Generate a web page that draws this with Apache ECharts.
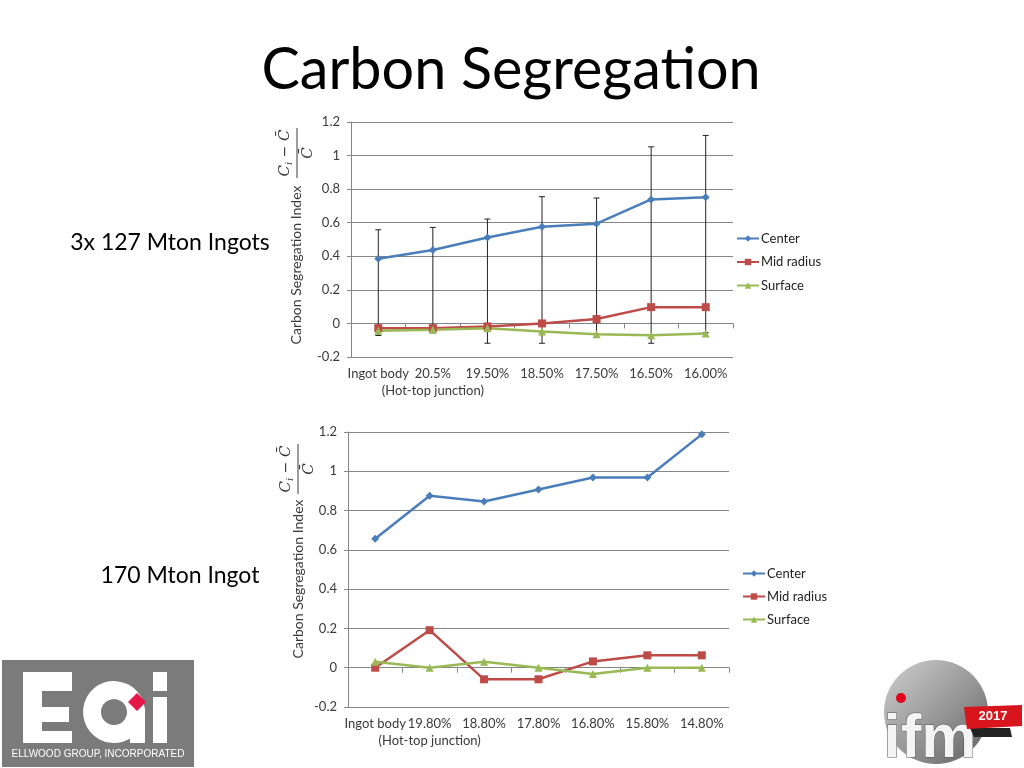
<!DOCTYPE html>
<html>
<head>
<meta charset="utf-8">
<script src="https://cdn.jsdelivr.net/npm/echarts@6/dist/echarts.min.js"></script>
<style>
html,body{margin:0;padding:0;background:#fff;}
#c{width:1024px;height:768px;}
</style>
</head>
<body>
<div id="c"></div>
<script>
// ---- data ----
var topCategories = ['Ingot body', '20.5%\n(Hot-top junction)', '19.50%', '18.50%', '17.50%', '16.50%', '16.00%'];
var topCenter  = [0.385, 0.437, 0.512, 0.576, 0.594, 0.739, 0.751];
var topMid     = [-0.028, -0.028, -0.018, 0.0, 0.026, 0.097, 0.097];
var topSurface = [-0.044, -0.038, -0.028, -0.048, -0.064, -0.071, -0.060];
var topErrHigh = [0.558, 0.572, 0.622, 0.755, 0.747, 1.052, 1.120];
var topErrLow  = [-0.072, -0.056, -0.118, -0.118, -0.065, -0.118, -0.055];

var botCategories = ['Ingot body', '19.80%\n(Hot-top junction)', '18.80%', '17.80%', '16.80%', '15.80%', '14.80%'];
var botCenter  = [0.657, 0.875, 0.846, 0.907, 0.968, 0.968, 1.188];
var botMid     = [0.0, 0.191, -0.059, -0.059, 0.032, 0.063, 0.063];
var botSurface = [0.030, 0.0, 0.030, 0.0, -0.032, 0.0, 0.0];

var seriesNames = ['Center', 'Mid radius', 'Surface'];
var yTicks = { min: -0.2, max: 1.2, interval: 0.2 };

var FONT = 'Lato';
var C_BLUE = '#4A7EBB', C_RED = '#BE4B48', C_GREEN = '#98B954';
var AX = '#868686', LBL = '#3a3a3a';

function xAxisCfg(gi, cats) {
  return {
    type: 'category', gridIndex: gi, data: cats, boundaryGap: true,
    axisLine: { lineStyle: { color: AX, width: 1 } },
    axisTick: { show: true, alignWithLabel: false, length: 5, lineStyle: { color: AX } },
    axisLabel: { interval: 0, color: LBL, fontFamily: FONT, fontSize: 13, margin: 8, lineHeight: 17 },
    splitLine: { show: false }
  };
}
function yAxisCfg(gi) {
  return {
    type: 'value', gridIndex: gi, min: yTicks.min, max: yTicks.max, interval: yTicks.interval,
    axisLine: { show: true, lineStyle: { color: AX, width: 1 } },
    axisTick: { show: true, length: 4, lineStyle: { color: AX } },
    axisLabel: { color: LBL, fontFamily: FONT, fontSize: 13, margin: 11,
      formatter: function (v) { return String(+v.toFixed(1)); } },
    splitLine: { show: true, lineStyle: { color: AX, width: 1 } }
  };
}
function lineSeries(name, gi, data, color, symbol, size) {
  return {
    name: name, type: 'line', xAxisIndex: gi, yAxisIndex: gi, data: data,
    symbol: symbol, symbolSize: size, showSymbol: true,
    lineStyle: { color: color, width: 2.5 },
    itemStyle: { color: color },
    z: 3, animation: false
  };
}
function errRender(params, api) {
  var x = api.value(0);
  var lo = api.coord([x, api.value(1)]);
  var hi = api.coord([x, api.value(2)]);
  var w = 3, st = { stroke: '#222', lineWidth: 1 };
  return { type: 'group', children: [
    { type: 'line', shape: { x1: lo[0], y1: lo[1], x2: hi[0], y2: hi[1] }, style: st },
    { type: 'line', shape: { x1: hi[0] - w, y1: hi[1], x2: hi[0] + w, y2: hi[1] }, style: st },
    { type: 'line', shape: { x1: lo[0] - w, y1: lo[1], x2: lo[0] + w, y2: lo[1] }, style: st }
  ]};
}

function yTitle(cx, cy, fx, fy) {
  return [
    { type: 'text', x: cx, y: cy, rotation: Math.PI / 2,
      style: { text: 'Carbon Segregation Index', font: '14px ' + FONT, fill: LBL, align: 'center', verticalAlign: 'middle' } },
    { type: 'group', x: fx, y: fy, rotation: Math.PI / 2, children: [
      { type: 'text', x: 0, y: -12,
        style: { text: '{c|C}{s|i}{m| − }{c|C̄}', align: 'center', verticalAlign: 'middle', fill: LBL,
          rich: { c: { fontFamily: 'DejaVu Serif', fontStyle: 'italic', fontSize: 15, fill: LBL },
                  s: { fontFamily: 'DejaVu Serif', fontStyle: 'italic', fontSize: 10, fill: LBL, verticalAlign: 'bottom', padding: [8, 0, 0, 0] },
                  m: { fontFamily: 'DejaVu Sans', fontSize: 14, fill: LBL } } } },
      { type: 'line', shape: { x1: -25, y1: 0, x2: 25, y2: 0 }, style: { stroke: LBL, lineWidth: 1 } },
      { type: 'text', x: 0, y: 11,
        style: { text: 'C̄', font: 'italic 15px "DejaVu Serif"', fill: LBL, align: 'center', verticalAlign: 'middle' } }
    ]}
  ];
}

var graphics = [
  { type: 'text', x: 511, y: 70, style: { text: 'Carbon Segregation', font: '57.5px ' + FONT, fill: '#000', align: 'center', verticalAlign: 'middle' } },
  { type: 'text', x: 170, y: 243, style: { text: '3x 127 Mton Ingots', font: '23px ' + FONT, fill: '#000', align: 'center', verticalAlign: 'middle' } },
  { type: 'text', x: 180, y: 576, style: { text: '170 Mton Ingot', font: '23px ' + FONT, fill: '#000', align: 'center', verticalAlign: 'middle' } },
  // EGI logo
  { type: 'group', children: [
    { type: 'rect', shape: { x: 2, y: 660, width: 192, height: 107 }, style: { fill: '#7b7b7b' } },
    { type: 'rect', shape: { x: 23, y: 672, width: 49, height: 19 }, style: { fill: '#fff' } },
    { type: 'rect', shape: { x: 23, y: 672, width: 19, height: 71 }, style: { fill: '#fff' } },
    { type: 'rect', shape: { x: 23, y: 707, width: 46, height: 15 }, style: { fill: '#fff' } },
    { type: 'rect', shape: { x: 23, y: 731, width: 49, height: 12 }, style: { fill: '#fff' } },
    { type: 'sector', shape: { cx: 114, cy: 712, r0: 13, r: 31, startAngle: -Math.PI * 0.22, endAngle: Math.PI * 1.95 }, style: { fill: '#fff' } },
    { type: 'rect', shape: { x: 130, y: 708, width: 15, height: 35 }, style: { fill: '#fff' } },
    { type: 'polygon', shape: { points: [[137, 693], [146, 702], [137, 711], [128, 702]] }, style: { fill: '#e8174a' } },
    { type: 'rect', shape: { x: 153, y: 672, width: 14, height: 19 }, style: { fill: '#fff' } },
    { type: 'rect', shape: { x: 153, y: 697, width: 14, height: 46 }, style: { fill: '#fff' } },
    { type: 'text', x: 98, y: 754, style: { text: 'ELLWOOD GROUP, INCORPORATED', font: '10px "Liberation Sans"', fill: '#fff', align: 'center', verticalAlign: 'middle' } }
  ]},
  // IFM logo
  { type: 'group', children: [
    { type: 'circle', shape: { cx: 936, cy: 712, r: 52 },
      style: { fill: new echarts.graphic.LinearGradient(0, 0, 1, 1, [{ offset: 0, color: '#cfcfcf' }, { offset: 0.5, color: '#9a9a9a' }, { offset: 1, color: '#606060' }]) } },
    { type: 'text', x: 930, y: 740, style: { text: 'ifm', font: 'bold 62px "Liberation Sans"', fill: '#f4f4f4', stroke: '#555', lineWidth: 1, align: 'center', verticalAlign: 'middle' } },
    { type: 'circle', shape: { cx: 901, cy: 698, r: 5 }, style: { fill: '#e0001b' } },
    { type: 'polygon', shape: { points: [[970, 728], [1010, 728], [1012, 737], [974, 737]] }, style: { fill: '#222' } },
    { type: 'polygon', shape: { points: [[964, 707], [1022, 705], [1022, 726], [967, 729]] }, style: { fill: '#d8141c' } },
    { type: 'text', x: 993, y: 716, style: { text: '2017', font: 'bold 13px "Liberation Sans"', fill: '#fff', align: 'center', verticalAlign: 'middle' } }
  ]}
].concat(yTitle(296, 265, 297, 153)).concat(yTitle(298, 579, 298, 469));

var option = {
  backgroundColor: '#ffffff',
  animation: false,
  grid: [
    { left: 351, right: 291, top: 122, bottom: 411, containLabel: false },
    { left: 348, right: 295, top: 432, bottom: 61, containLabel: false }
  ],
  xAxis: [xAxisCfg(0, topCategories), xAxisCfg(1, botCategories)],
  yAxis: [yAxisCfg(0), yAxisCfg(1)],
  legend: [
    { orient: 'vertical', left: 731, top: 227, itemWidth: 22, itemHeight: 8, itemGap: 10.5,
      data: seriesNames, textStyle: { fontFamily: FONT, fontSize: 13, color: '#222', padding: [0, 0, 0, -3] } },
    { orient: 'vertical', left: 737, top: 562, itemWidth: 22, itemHeight: 8, itemGap: 10,
      data: seriesNames, textStyle: { fontFamily: FONT, fontSize: 13, color: '#222', padding: [0, 0, 0, -3] } }
  ],
  series: [
    { name: 'range', type: 'custom', xAxisIndex: 0, yAxisIndex: 0, renderItem: errRender, z: 2,
      encode: { x: 0, y: [1, 2] },
      data: topErrLow.map(function (l, i) { return [i, l, topErrHigh[i]]; }) },
    lineSeries('Center', 0, topCenter, C_BLUE, 'diamond', 8),
    lineSeries('Mid radius', 0, topMid, C_RED, 'rect', 8),
    lineSeries('Surface', 0, topSurface, C_GREEN, 'triangle', 8),
    lineSeries('Center', 1, botCenter, C_BLUE, 'diamond', 8),
    lineSeries('Mid radius', 1, botMid, C_RED, 'rect', 8),
    lineSeries('Surface', 1, botSurface, C_GREEN, 'triangle', 8)
  ],
  graphic: graphics
};

var chart = echarts.init(document.getElementById('c'), null, { renderer: 'canvas' });
chart.setOption(option);
</script>
</body>
</html>
